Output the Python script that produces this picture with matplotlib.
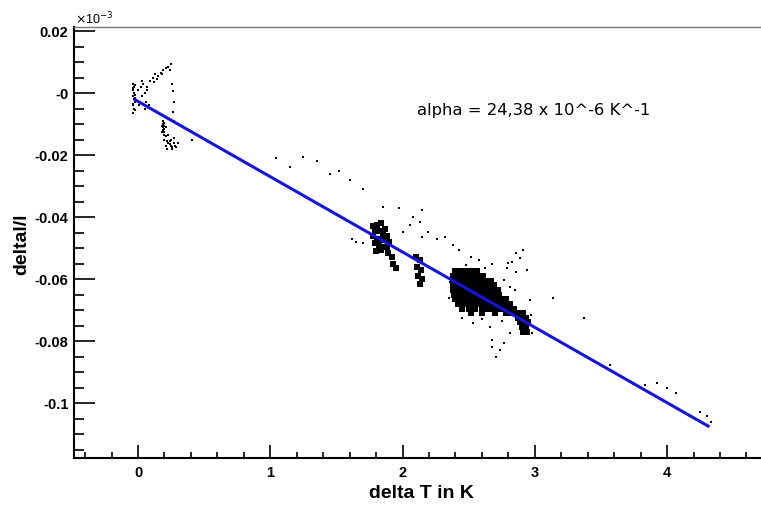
import matplotlib
matplotlib.use("Agg")
import matplotlib.pyplot as plt
from matplotlib.ticker import MultipleLocator, FixedLocator

W, H = 761, 508

# sparse scatter points (delta T, delta l / l)
sparse_x = [-0.035, -0.03, -0.035, -0.03, -0.035, -0.03, -0.025, -0.035, -0.03, -0.035, -0.02, -0.02,
            -0.04, -0.025, -0.04, -0.02,
            0.02, 0.03, 0.05, 0.04, 0.06, 0.01, 0.05, 0.08, 0.0, 0.03, 0.07,
            0.09, 0.11, 0.13, 0.15, 0.17, 0.19, 0.21, 0.23, 0.25, 0.24, 0.07, 0.12, 0.14, 0.18,
            0.26, 0.265, 0.27, 0.265, 0.27,
            0.19, 0.2, 0.19, 0.2, 0.19, 0.2, 0.19, 0.2, 0.21, 0.2, 0.21, 0.2, 0.22, 0.23, 0.24, 0.25,
            0.26, 0.27, 0.28, 0.29, 0.25, 0.27, 0.3, 0.21, 0.22, 0.26, 0.41, 0.18, 0.185, 0.23, 0.24,
            1.04, 1.25, 1.35, 1.15, 1.45, 1.52, 1.60, 1.70,
            1.62, 1.65, 1.70, 1.85, 1.97, 2.0, 2.06, 2.08, 2.13, 2.15, 2.15,
            2.19, 2.26, 2.32, 2.38, 2.43, 2.52, 2.58, 2.68,
            2.86, 2.91, 2.89, 2.94, 2.80, 2.83, 2.86, 2.77, 2.81, 2.85, 2.96,
            2.53, 2.66, 2.68, 2.71, 2.74, 2.77, 2.81, 2.68,
            2.36, 2.35, 2.45, 2.60, 2.75, 2.79, 2.97, 2.98, 2.48, 2.62,
            3.14, 3.37, 3.57, 3.83, 3.92, 4.0, 4.07, 4.25, 4.30, 4.33]
sparse_y = [0.003, 0.002, 0.001, 0.0, -0.001, -0.002, -0.003, -0.0035, -0.005, -0.0065, 0.0025, -0.0015,
            -0.004, -0.0055, 0.0015, -0.0005,
            0.002, -0.001, 0.0, 0.003, -0.003, -0.004, -0.005, -0.004, 0.001, 0.004, 0.001,
            0.004, 0.005, 0.006, 0.0055, 0.0065, 0.0075, 0.008, 0.0085, 0.0095, 0.0075, 0.002, 0.0035,
            0.0045, 0.006,
            0.003, 0.0005, -0.003, -0.006, -0.009,
            -0.009, -0.0095, -0.010, -0.0105, -0.011, -0.0115, -0.012, -0.0125, -0.011, -0.0135, -0.014,
            -0.015, -0.0155, -0.016, -0.0165, -0.017,
            -0.0175, -0.016, -0.017, -0.0175, -0.015, -0.0145, -0.016, -0.017, -0.018, -0.018, -0.0152,
            -0.0105, -0.0125, -0.0135, -0.0155,
            -0.021, -0.0205, -0.022, -0.024, -0.026, -0.025, -0.028, -0.031,
            -0.047, -0.048, -0.0485, -0.0368, -0.037, -0.0448, -0.0426, -0.040, -0.0416, -0.0377, -0.0465,
            -0.0448, -0.047, -0.0465, -0.049, -0.0506, -0.053, -0.054, -0.055,
            -0.0516, -0.0506, -0.0532, -0.0571, -0.0548, -0.0545, -0.0577, -0.0603, -0.0626, -0.0635, -0.0668,
            -0.0742, -0.0755, -0.0797, -0.0852, -0.0829, -0.0806, -0.0774, -0.0819,
            -0.061, -0.066, -0.0725, -0.073, -0.0735, -0.0565, -0.0715, -0.0775, -0.0555, -0.0565,
            -0.066, -0.0726, -0.0877, -0.094, -0.0935, -0.095, -0.0968, -0.103, -0.104, -0.106]

# dense clusters (read row by row)
dense_x = [1.78, 1.81, 1.84, 1.87, 1.79, 1.82, 1.85, 1.88, 1.78, 1.81, 1.84, 1.87, 1.90,
           1.79, 1.82, 1.85, 1.88, 1.80, 1.84, 1.89, 1.92, 1.93, 1.95,
           2.10, 2.13, 2.11, 2.14, 2.12, 2.15, 2.13,
           2.40, 2.43, 2.47, 2.52, 2.56,
           2.38, 2.41, 2.44, 2.47, 2.50, 2.53, 2.57, 2.61,
           2.38, 2.41, 2.44, 2.47, 2.50, 2.53, 2.56, 2.59, 2.63, 2.67,
           2.38, 2.41, 2.44, 2.47, 2.50, 2.53, 2.56, 2.59, 2.62, 2.65, 2.69,
           2.38, 2.41, 2.44, 2.47, 2.50, 2.53, 2.56, 2.59, 2.62, 2.65, 2.68, 2.72,
           2.39, 2.42, 2.45, 2.48, 2.51, 2.54, 2.57, 2.60, 2.63, 2.66, 2.69, 2.73,
           2.40, 2.43, 2.46, 2.49, 2.52, 2.55, 2.58, 2.61, 2.64, 2.67, 2.70, 2.74, 2.78,
           2.42, 2.46, 2.49, 2.52, 2.55, 2.58, 2.61, 2.64, 2.67, 2.70, 2.73, 2.77, 2.81,
           2.45, 2.50, 2.55, 2.60, 2.64, 2.68, 2.72, 2.76, 2.80, 2.84,
           2.52, 2.60, 2.70, 2.78, 2.83, 2.87, 2.91,
           2.87, 2.90, 2.93, 2.89, 2.92, 2.95, 2.90, 2.93, 2.91, 2.94]
dense_y = [-0.043, -0.0425, -0.042, -0.044, -0.0445, -0.0445, -0.0455, -0.046, -0.046, -0.047, -0.047,
           -0.0475, -0.048,
           -0.0485, -0.049, -0.0495, -0.0495, -0.051, -0.0505, -0.0515, -0.053, -0.055, -0.0565,
           -0.053, -0.054, -0.056, -0.057, -0.059, -0.060, -0.0615,
           -0.0575, -0.0575, -0.0575, -0.0575, -0.0575,
           -0.059, -0.059, -0.059, -0.059, -0.059, -0.059, -0.059, -0.059,
           -0.0605, -0.0605, -0.0605, -0.0605, -0.0605, -0.0605, -0.0605, -0.0605, -0.0605, -0.0605,
           -0.062, -0.062, -0.062, -0.062, -0.062, -0.062, -0.062, -0.062, -0.062, -0.062, -0.062,
           -0.0635, -0.0635, -0.0635, -0.0635, -0.0635, -0.0635, -0.0635, -0.0635, -0.0635, -0.0635,
           -0.0635, -0.0635,
           -0.065, -0.065, -0.065, -0.065, -0.065, -0.065, -0.065, -0.065, -0.065, -0.065, -0.065, -0.065,
           -0.0665, -0.0665, -0.0665, -0.0665, -0.0665, -0.0665, -0.0665, -0.0665, -0.0665, -0.0665,
           -0.0665, -0.0665, -0.0665,
           -0.068, -0.068, -0.068, -0.068, -0.068, -0.068, -0.068, -0.068, -0.068, -0.068, -0.068,
           -0.068, -0.068,
           -0.0695, -0.0695, -0.0695, -0.0695, -0.0695, -0.0695, -0.0695, -0.0695, -0.0695, -0.0695,
           -0.071, -0.071, -0.071, -0.071, -0.071, -0.071, -0.071,
           -0.0725, -0.0725, -0.0725, -0.074, -0.074, -0.074, -0.0755, -0.0755, -0.077, -0.077]

# linear fit endpoints
fit_x = [-0.02, 4.31]
fit_y = [-0.0022, -0.1074]

x_ticks = [0, 1, 2, 3, 4]
y_ticks = [0.02, 0.0, -0.02, -0.04, -0.06, -0.08, -0.1]
y_labels = ["0.02", "-0", "-0.02", "-0.04", "-0.06", "-0.08", "-0.1"]

plt.rcParams['font.family'] = ['Liberation Sans', 'DejaVu Sans']

fig = plt.figure(figsize=(W / 100, H / 100), dpi=100)
ax = fig.add_axes([74 / W, 50 / H, (W - 74) / W, (458 - 27) / H])

ax.plot(sparse_x, sparse_y, 's', color='black', markersize=1.6, markeredgewidth=0)
ax.plot(dense_x, dense_y, 's', color='black', markersize=3.7, markeredgewidth=0)
ax.plot(fit_x, fit_y, '-', color='#1414dc', linewidth=2.2)

ax.set_xlim(-0.484, 4.71)
ax.set_ylim(-0.1177, 0.0213)

ax.xaxis.set_major_locator(FixedLocator(x_ticks))
ax.xaxis.set_minor_locator(MultipleLocator(0.2))
ax.yaxis.set_major_locator(FixedLocator(y_ticks))
ax.yaxis.set_minor_locator(MultipleLocator(0.005))
ax.set_yticklabels(y_labels)

ax.tick_params(which='both', direction='in', top=False, right=False, width=1.2)
ax.tick_params(axis='x', which='major', length=9.5, pad=6)
ax.tick_params(axis='x', which='minor', length=4.5)
ax.tick_params(axis='y', which='major', length=15, pad=4)
ax.tick_params(axis='y', which='minor', length=7.5)
for lab in ax.get_xticklabels() + ax.get_yticklabels():
    lab.set_fontweight('bold')
    lab.set_fontsize(10.5)

ax.spines['right'].set_visible(False)
ax.spines['top'].set_color('#777777')
ax.spines['top'].set_linewidth(1.0)
ax.spines['left'].set_linewidth(1.5)
ax.spines['bottom'].set_linewidth(1.5)

ax.text(2.11, -0.0071, "alpha = 24,38 x 10^-6 K^-1", fontsize=11.8,
        family='DejaVu Sans', va='baseline', ha='left')

fig.text(421 / W, 1 - 494 / H, "delta T in K", fontsize=14, fontweight='bold',
         ha='center', va='center')
fig.text(22 / W, 1 - 244 / H, "deltal/l", fontsize=14, fontweight='bold',
         ha='center', va='center', rotation=90)
fig.text(75 / W, 1 - 24 / H, r"$\times$10$^{-3}$", fontsize=9, ha='left', va='baseline')

fig.savefig("out.png", dpi=100)
